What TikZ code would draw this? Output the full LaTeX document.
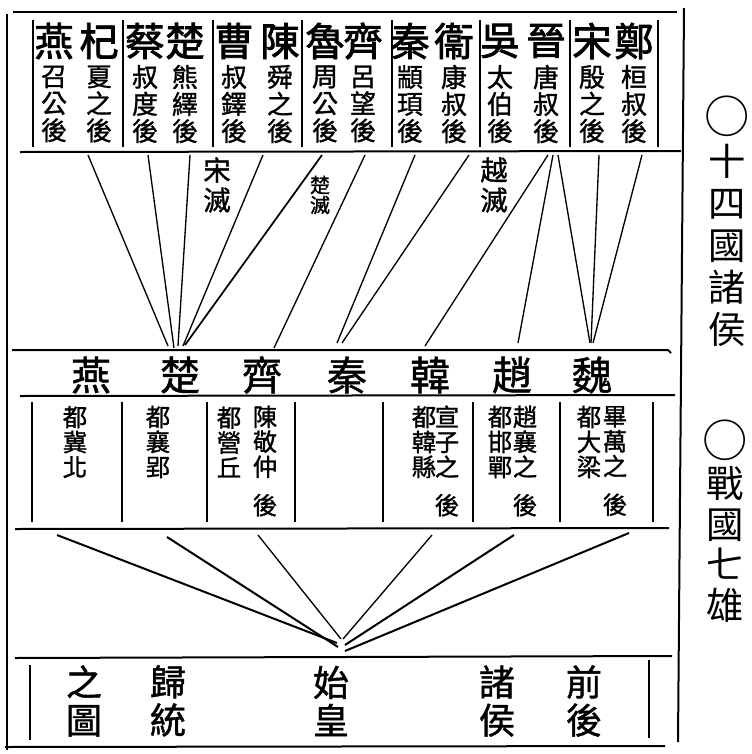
\documentclass[tikz,border=0pt]{standalone}
\usepackage{fontspec}
\newfontfamily\cjk{Noto Sans CJK TC}
\newfontfamily\cjkm{Noto Sans CJK TC}[FakeBold=1.2]
\newfontfamily\cjkb{Noto Sans CJK TC}[FakeBold=2]
\begin{document}
\begin{tikzpicture}[x=0.75pt,y=-0.75pt,
  frameline/.style={line width=1.5pt},
  sepline/.style={line width=1.1pt},
  conn/.style={line width=1pt},
  fan/.style={line width=1.5pt},
  bigch/.style={inner sep=0pt,font=\cjkb\fontsize{29.5}{30}\selectfont},
  smallcol/.style={inner sep=0pt,align=center,font=\cjkm\fontsize{19.5}{20.25}\selectfont},
  midch/.style={inner sep=0pt,font=\cjkm\fontsize{30}{30}\selectfont},
  cellcol/.style={inner sep=0pt,align=center,font=\cjkm\fontsize{18.3}{18.75}\selectfont},
  lbl/.style={inner sep=0pt,align=center,font=\cjkm\fontsize{20.5}{22.5}\selectfont},
  lblsmall/.style={inner sep=0pt,align=center,font=\cjkm\fontsize{15}{15}\selectfont},
  botcol/.style={inner sep=0pt,align=center,font=\cjkm\fontsize{27}{28.5}\selectfont},
  sidecol/.style={inner sep=0pt,align=center,font=\cjk\fontsize{28}{31.5}\selectfont},
  sidecolb/.style={inner sep=0pt,align=center,font=\cjk\fontsize{28}{30.4}\selectfont}
]
\useasboundingbox[fill=white] (0,0) rectangle (752,754);

% outer frame
\draw[frameline] (13,12) -- (677,12);
\draw[frameline] (7,14) -- (7,750);
\draw[frameline] (684,8) -- (678,742);
\draw[frameline] (5,747) -- (665,746);

% top section
\draw[frameline] (20,152) -- (681,151);
\foreach \x in {33,123,213,302,392,480,570,658}
  \draw[sepline] (\x,20) -- (\x,147);

\foreach \n/\x/\b/\p/\q/\r in {
  yan/54/燕/召/公/後, qii/99/杞/夏/之/後,
  cai/145/蔡/叔/度/後, chu/185/楚/熊/繹/後,
  cao/234/曹/叔/鐸/後, chen/280/陳/舜/之/後,
  lu/325/魯/周/公/後, qi/363/齊/呂/望/後,
  qin/410/秦/顓/頊/後, wey/454/衞/康/叔/後,
  wu/500/吳/太/伯/後, jin/546/晉/唐/叔/後,
  song/592/宋/殷/之/後, zheng/634/鄭/桓/叔/後}
{
  \node[bigch] (t-\n) at (\x,41) {\b};
  \node[smallcol] (ts-\n) at (\x,104) {\p\\\q\\\r};
}

% labels
\node[lbl] (l-song) at (217,185) {宋\\滅};
\node[lblsmall] (l-chu) at (320,195) {楚\\滅};
\node[lbl] (l-yue) at (494,185) {越\\滅};

% middle row
\draw[frameline] (12,350) -- (668,350) -- (671,353);
\draw[frameline] (20,396) -- (675,395);
\node[midch] (m-yan) at (91,375) {燕};
\node[midch] (m-chu) at (180,375) {楚};
\node[midch] (m-qi) at (262,375) {齊};
\node[midch] (m-qin) at (347,375) {秦};
\node[midch] (m-han) at (430,375) {韓};
\node[midch] (m-zhao) at (512,375) {趙};
\node[midch] (m-wei) at (592,375) {魏};

% connectors top -> middle
\coordinate (s-qii) at (88,155);
\coordinate (s-cai) at (148,155);
\coordinate (s-chu) at (190,155);
\coordinate (s-chen) at (263,155);
\coordinate (s-lu) at (322,155);
\coordinate (s-qi) at (365,155);
\coordinate (s-qin) at (415,155);
\coordinate (s-wey) at (469,155);
\coordinate (s-jin1) at (548,155);
\coordinate (s-jin2) at (553,155);
\coordinate (s-jin3) at (558,155);
\coordinate (s-song) at (599,155);
\coordinate (s-zheng) at (642,155);

\coordinate (e-chu1) at (168,346);
\coordinate (e-chu2) at (174,348);
\coordinate (e-chu3) at (178,346);
\coordinate (e-chu4) at (183,346);
\coordinate (e-chu5) at (185,345);
\coordinate (e-qi) at (274,348);
\coordinate (e-qin1) at (337,343);
\coordinate (e-qin2) at (342,343);
\coordinate (e-han) at (425,346);
\coordinate (e-zhao) at (518,343);
\coordinate (e-wei1) at (590,343);
\coordinate (e-wei2) at (591,343);
\coordinate (e-wei3) at (593,343);

\draw[conn] (s-qii) -- (e-chu1);
\draw[conn] (s-cai) -- (e-chu2);
\draw[conn] (s-chu) -- (e-chu3);
\draw[conn] (s-chen) -- (e-chu4);
\draw[conn,line width=1.3pt] (s-lu) -- (e-chu5);
\draw[conn] (s-qi) -- (e-qi);
\draw[conn] (s-qin) -- (e-qin1);
\draw[conn] (s-wey) -- (e-qin2);
\draw[conn] (s-jin1) -- (e-han);
\draw[conn] (s-jin2) -- (e-zhao);
\draw[conn] (s-jin3) -- (e-wei1);
\draw[conn] (s-song) -- (e-wei2);
\draw[conn] (s-zheng) -- (e-wei3);

% lower cells
\foreach \x in {32,122,207,295,383,473,560,653}
  \draw[sepline] (\x,402) -- (\x,522);
\draw[frameline] (15,529) -- (669,528);

\node[cellcol] (c-yan) at (75,442) {都\\冀\\北};
\node[cellcol] (c-chu) at (158,442) {都\\襄\\郢};
\node[cellcol] (c-qi1) at (229,442) {都\\營\\丘};
\node[cellcol] (c-qi2) at (265,461) {陳\\敬\\仲\\[10pt]後};
\node[cellcol] (c-han1) at (424,442) {都\\韓\\縣};
\node[cellcol] (c-han2) at (447,461) {宣\\子\\之\\[10pt]後};
\node[cellcol] (c-zhao1) at (500,442) {都\\邯\\鄲};
\node[cellcol] (c-zhao2) at (525,461) {趙\\襄\\之\\[10pt]後};
\node[cellcol] (c-wei1) at (589,442) {都\\大\\梁};
\node[cellcol] (c-wei2) at (615,461) {畢\\萬\\之\\[10pt]後};

% fan to unification
\coordinate (f1) at (57,535);
\coordinate (f2) at (167,537);
\coordinate (f3) at (258,535);
\coordinate (f4) at (432,535);
\coordinate (f5) at (514,535);
\coordinate (f6) at (629,533);
\coordinate (g1) at (337,643);
\coordinate (g2) at (338,647);
\coordinate (g3) at (341,639);
\coordinate (g4) at (343,639);
\coordinate (g5) at (345,645);
\coordinate (g6) at (345,651);
\draw[fan] (f1) -- (g1);
\draw[fan] (f2) -- (g2);
\draw[conn] (f3) -- (g3);
\draw[conn] (f4) -- (g4);
\draw[fan] (f5) -- (g5);
\draw[fan] (f6) -- (g6);

% bottom box
\draw[frameline] (15,658) -- (672,656);
\draw[sepline] (30,665) -- (30,740);
\draw[sepline] (649,660) -- (649,738);
\node[botcol] (b-zhi) at (84,701) {之\\圖};
\node[botcol] (b-gui) at (168,701) {歸\\統};
\node[botcol] (b-shi) at (331,701) {始\\皇};
\node[botcol] (b-zhu) at (497,701) {諸\\侯};
\node[botcol] (b-qian) at (584,701) {前\\後};

% side titles
\node[sidecol] (side1) at (727,221) {{\fontsize{34}{31.5}\selectfont ○}\\十\\四\\國\\諸\\侯};
\node[sidecolb] (side2) at (725,521) {{\fontsize{34}{30.4}\selectfont ○}\\戰\\國\\七\\雄};
\end{tikzpicture}
\end{document}
